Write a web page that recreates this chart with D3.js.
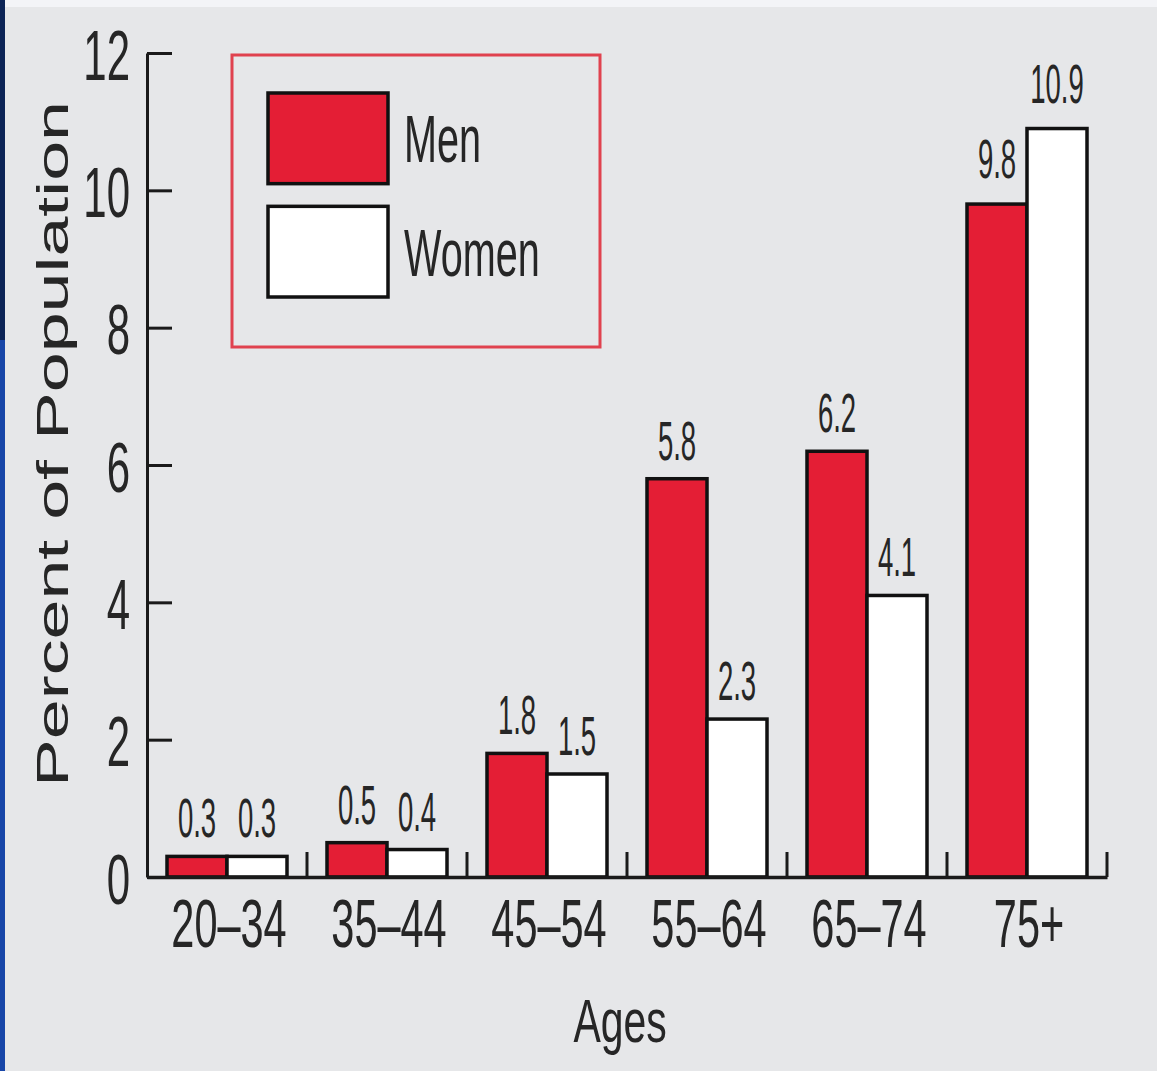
<!DOCTYPE html>
<html>
<head>
<meta charset="utf-8">
<script src="https://cdn.jsdelivr.net/npm/d3@7"></script>
<style>
  html, body { margin: 0; padding: 0; background: #e6e7e9; }
  svg { display: block; }
  text { fill: #262626; font-family: "Liberation Sans", Arial, sans-serif; }
</style>
</head>
<body>
<svg id="chart" width="1157" height="1071"></svg>
<script>
// Age groups and share of population (percent) for each sex
const ages = ["20–34", "35–44", "45–54", "55–64", "65–74", "75+"];
const men = [0.3, 0.5, 1.8, 5.8, 6.2, 9.8];
const women = [0.3, 0.4, 1.5, 2.3, 4.1, 10.9];
const seriesNames = ["Men", "Women"];
const yTicks = [0, 2, 4, 6, 8, 10, 12];

const colors = { Men: "#e41e35", Women: "#ffffff" };

const W = 1157, H = 1071;
const svg = d3.select("#chart");

// page frame: light top band and blue left edge
svg.append("rect").attr("x", 0).attr("y", 0).attr("width", W).attr("height", H).attr("fill", "#e6e7e9");
svg.append("rect").attr("x", 0).attr("y", 0).attr("width", W).attr("height", 7).attr("fill", "#f3f4f7");
svg.append("rect").attr("x", 0).attr("y", 0).attr("width", 5).attr("height", 340).attr("fill", "#0c2456");
svg.append("rect").attr("x", 0).attr("y", 340).attr("width", 5).attr("height", H - 340).attr("fill", "#1846a8");

const x0 = 147, x1 = 1107, yBase = 877, yTop = 53;

const x = d3.scaleBand().domain(ages).range([x0, x1]).padding(0);
const xs = d3.scaleBand().domain(seriesNames).range([20, x.bandwidth() - 20]).padding(0);
const y = d3.scaleLinear().domain([0, 12]).range([yBase, yTop]);

const rows = ages.map((a, i) => ({ age: a, values: [
  { key: "Men", value: men[i] },
  { key: "Women", value: women[i] }
]}));

// condensed text helper: scale glyphs horizontally around the anchor
function condensed(sel, sx) {
  sel.each(function () {
    const t = d3.select(this);
    const tx = +t.attr("data-x"), ty = +t.attr("data-y");
    t.attr("transform", `translate(${tx},${ty}) scale(${sx},1)`);
  });
}

// bars
const groups = svg.append("g").selectAll("g").data(rows).join("g")
  .attr("transform", d => `translate(${x(d.age)},0)`);

groups.selectAll("rect").data(d => d.values).join("rect")
  .attr("x", d => xs(d.key))
  .attr("y", d => y(d.value))
  .attr("width", xs.bandwidth())
  .attr("height", d => y(0) - y(d.value))
  .attr("fill", d => colors[d.key])
  .attr("stroke", "#111")
  .attr("stroke-width", 3.5);

// value labels above bars (taller bars carry a little more headroom)
groups.selectAll("text.val").data(d => d.values).join("text")
  .attr("class", "val")
  .attr("text-anchor", "middle")
  .attr("font-size", 55)
  .attr("data-x", d => xs(d.key) + xs.bandwidth() / 2)
  .attr("data-y", d => y(d.value) - (d.value > 9 ? 26 : 19))
  .text(d => d.value.toFixed(1))
  .call(condensed, 0.5);

// y axis with inward ticks
const yAxis = d3.axisLeft(y).tickValues(yTicks).tickSizeInner(-25).tickSizeOuter(0).tickPadding(17)
  .tickFormat(d3.format("d"));
const gy = svg.append("g").attr("transform", `translate(${x0},0)`).call(yAxis);
gy.select(".domain").attr("stroke", "#1a1a1a").attr("stroke-width", 3);
gy.selectAll(".tick line").attr("stroke", "#1a1a1a").attr("stroke-width", 3);
gy.selectAll(".tick text")
  .attr("x", null).attr("dy", null)
  .attr("font-size", 70)
  .attr("font-family", "Liberation Sans, Arial, sans-serif")
  .attr("fill", "#262626")
  .attr("data-x", -17).attr("data-y", 26)
  .call(condensed, 0.6);

// x axis: baseline, group separators and category labels
const xAxis = d3.axisBottom(x).tickSize(0).tickPadding(0);
const gx = svg.append("g").attr("transform", `translate(0,${yBase})`).call(xAxis);
gx.select(".domain").attr("stroke", "#1a1a1a").attr("stroke-width", 3.5);
gx.selectAll(".tick text")
  .attr("y", null).attr("dy", null)
  .attr("font-size", 68)
  .attr("font-family", "Liberation Sans, Arial, sans-serif")
  .attr("fill", "#262626")
  .attr("data-x", 2).attr("data-y", 70)
  .call(condensed, 0.61);

svg.append("g").selectAll("line").data(ages).join("line")
  .attr("x1", d => x(d) + x.bandwidth()).attr("x2", d => x(d) + x.bandwidth())
  .attr("y1", yBase).attr("y2", yBase - 25)
  .attr("stroke", "#1a1a1a").attr("stroke-width", 3);

// axis titles
svg.append("text")
  .attr("text-anchor", "middle")
  .attr("font-size", 62)
  .attr("data-x", 620).attr("data-y", 1042)
  .text("Ages")
  .call(condensed, 0.66);

svg.append("text")
  .attr("transform", "translate(68,444) rotate(-90)")
  .attr("text-anchor", "middle")
  .attr("font-family", "Noto Sans, Open Sans, sans-serif")
  .attr("font-size", 45)
  .attr("fill", "#2e2e2e")
  .attr("textLength", 686)
  .attr("lengthAdjust", "spacingAndGlyphs")
  .text("Percent of Population");

// legend
const legend = svg.append("g");
legend.append("rect")
  .attr("x", 232).attr("y", 55).attr("width", 368).attr("height", 292)
  .attr("fill", "none").attr("stroke", "#e0424f").attr("stroke-width", 3);

const legendY = d3.scaleBand().domain(seriesNames).range([93, 297]).paddingInner(0.2);
legend.selectAll("rect.sw").data(seriesNames).join("rect")
  .attr("class", "sw")
  .attr("x", 268).attr("y", d => legendY(d))
  .attr("width", 120).attr("height", legendY.bandwidth())
  .attr("fill", d => colors[d])
  .attr("stroke", "#111").attr("stroke-width", 3.5);

legend.selectAll("text").data(seriesNames).join("text")
  .attr("font-size", 66)
  .attr("data-x", 404)
  .attr("data-y", d => legendY(d) + legendY.bandwidth() / 2 + 24)
  .text(d => d)
  .call(condensed, 0.6);
</script>
</body>
</html>
